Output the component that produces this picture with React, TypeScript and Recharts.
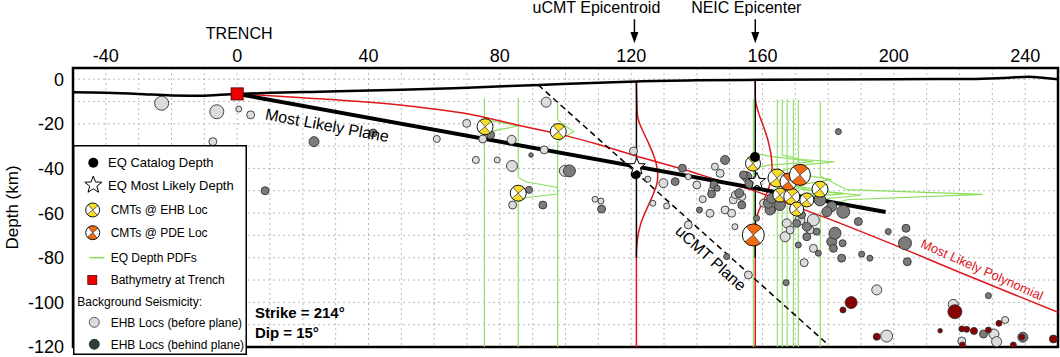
import React from 'react';
import {
  ComposedChart, Line, Scatter, XAxis, YAxis, ZAxis, CartesianGrid,
  ReferenceArea, ReferenceDot, Legend,
} from 'recharts';

const FONT = '"Liberation Sans", Arial, Helvetica, sans-serif';

// ---- axes ----
const xGridTicks = [-50, -40, -30, -20, -10, 0, 10, 20, 30, 40, 50, 60, 70, 80, 90, 100, 110, 120, 130, 140, 150, 160, 170, 180, 190, 200, 210, 220, 230, 240, 250];
const xTickLabels = [-40, 0, 40, 80, 120, 160, 200, 240];
const yGridTicks = [-120, -110, -100, -90, -80, -70, -60, -50, -40, -30, -20, -10, 0];
const yTickLabels = [-120, -100, -80, -60, -40, -20, 0];

// ---- lines (distance km, depth km) ----
const bathymetry = [
  { x: -50, y: -5.9 }, { x: -40, y: -6.1 }, { x: -30, y: -6.6 }, { x: -20, y: -7.3 }, { x: -12, y: -7.4 },
  { x: -5, y: -7.0 }, { x: 0, y: -6.7 }, { x: 10, y: -6.1 }, { x: 25, y: -5.6 }, { x: 50, y: -4.8 },
  { x: 70, y: -3.8 }, { x: 92, y: -2.6 }, { x: 110, y: -1.6 }, { x: 121.6, y: -1.0 }, { x: 140, y: -0.5 },
  { x: 160, y: -0.3 }, { x: 200, y: 0 }, { x: 225, y: 0.1 }, { x: 235, y: 0.6 }, { x: 241, y: 1.1 },
  { x: 246, y: 0.5 }, { x: 250, y: 0 },
];
const mostLikelyPlane = [{ x: 0, y: -6.6 }, { x: 197.5, y: -59.5 }];
const mostLikelyPolynomial = [
  { x: 0, y: -6.6 }, { x: 20, y: -8.3 }, { x: 49.6, y: -11.6 }, { x: 70, y: -15.5 }, { x: 85.3, y: -20.5 },
  { x: 100, y: -25.3 }, { x: 110.6, y: -29.5 }, { x: 122.8, y: -35 }, { x: 135, y: -40 }, { x: 147, y: -45.5 },
  { x: 158.4, y: -50.5 }, { x: 170, y: -57 }, { x: 183.7, y: -64.6 }, { x: 198, y: -73 }, { x: 220, y: -86.5 },
  { x: 250, y: -104.5 },
];
const ucmtPlane = [{ x: 91.7, y: -2.6 }, { x: 179.7, y: -118.6 }];
const ucmtEpicentroid = [{ x: 121.6, y: -1.0 }, { x: 121.6, y: -80 }];
const neicEpicenter = [{ x: 157.8, y: -0.3 }, { x: 157.8, y: -80 }];

// red depth PDFs at the two epicentres
const pdfUcmt = [
  { x: 121.6, y: -1 }, { x: 121.9, y: -16 }, { x: 122.6, y: -20 }, { x: 123.8, y: -24 }, { x: 125.4, y: -29 },
  { x: 126.8, y: -34 }, { x: 127.8, y: -39 }, { x: 128.1, y: -43 }, { x: 127.8, y: -47 }, { x: 126.6, y: -52 },
  { x: 125.1, y: -57 }, { x: 123.6, y: -62 }, { x: 122.5, y: -67 }, { x: 121.9, y: -72 }, { x: 121.6, y: -78 },
  { x: 121.6, y: -120 },
];
const pdfNeic = [
  { x: 157.8, y: -0.3 }, { x: 157.8, y: -8 }, { x: 158.2, y: -12 }, { x: 159.0, y: -16 }, { x: 160.0, y: -20 },
  { x: 161.2, y: -25 }, { x: 162.1, y: -30 }, { x: 162.7, y: -35 }, { x: 162.9, y: -40 }, { x: 162.6, y: -45 },
  { x: 161.6, y: -50 }, { x: 160.1, y: -55 }, { x: 158.6, y: -60 }, { x: 157.9, y: -64 }, { x: 157.8, y: -70 },
  { x: 157.8, y: -120 },
];

// green EQ depth PDFs
const pdfG1 = [{ x: 75.3, y: -8.5 }, { x: 75.3, y: -16.8 }, { x: 77, y: -18.5 }, { x: 85.6, y: -21 }, { x: 77, y: -23.5 }, { x: 75.3, y: -25.5 }, { x: 75.3, y: -120 }];
const pdfG2 = [{ x: 85.6, y: -8.5 }, { x: 85.6, y: -44 }, { x: 88, y: -46 }, { x: 97.5, y: -48.5 }, { x: 97.5, y: -51.5 }, { x: 88, y: -53 }, { x: 85.6, y: -55 }, { x: 85.6, y: -120 }];
const pdfG3 = [{ x: 97.6, y: -10.2 }, { x: 97.6, y: -18 }, { x: 99, y: -20 }, { x: 102.5, y: -23.5 }, { x: 99, y: -26.5 }, { x: 97.6, y: -28 }, { x: 97.6, y: -120 }];
const pdfG4 = [{ x: 157.2, y: -9 }, { x: 157.2, y: -33 }, { x: 162, y: -34.5 }, { x: 175.5, y: -37 }, { x: 162, y: -38.5 }, { x: 157.2, y: -40 }, { x: 157.2, y: -120 }];
const pdfG5 = [{ x: 164.5, y: -9 }, { x: 164.5, y: -46 }, { x: 170, y: -49 }, { x: 178, y: -50.5 }, { x: 170, y: -52 }, { x: 164.5, y: -55 }, { x: 164.5, y: -120 }];
const pdfG6 = [{ x: 166, y: -9 }, { x: 166, y: -34 }, { x: 172, y: -36 }, { x: 182, y: -37 }, { x: 172, y: -38.5 }, { x: 166, y: -41 }, { x: 166, y: -120 }];
const pdfG7 = [{ x: 167.5, y: -9 }, { x: 167.5, y: -47 }, { x: 175, y: -50 }, { x: 185, y: -51.3 }, { x: 175, y: -52.5 }, { x: 167.5, y: -56 }, { x: 167.5, y: -120 }];
const pdfG8 = [{ x: 169.4, y: -9 }, { x: 169.4, y: -40 }, { x: 173, y: -43 }, { x: 181, y: -45 }, { x: 173, y: -47 }, { x: 169.4, y: -50 }, { x: 169.4, y: -120 }];
const pdfG9 = [{ x: 170.9, y: -9 }, { x: 170.9, y: -48 }, { x: 180, y: -50.5 }, { x: 190, y: -52 }, { x: 180, y: -53.5 }, { x: 170.9, y: -57 }, { x: 170.9, y: -120 }];
const pdfG10 = [{ x: 177.6, y: -10 }, { x: 177.6, y: -43.5 }, { x: 185.6, y: -49.5 }, { x: 227, y: -51.6 }, { x: 185.6, y: -54 }, { x: 179.6, y: -57 }, { x: 177.6, y: -60 }, { x: 177.6, y: -120 }];
const greenPdfs = [pdfG1, pdfG2, pdfG3, pdfG4, pdfG5, pdfG6, pdfG7, pdfG8, pdfG9, pdfG10];

// ---- background seismicity (x km, depth km, m = magnitude) ----
const ehbBeforePlane = [
  { x: -23.0, y: -10.8, m: 4.9 }, { x: -6.2, y: -14.6, m: 4.9 }, { x: 0.5, y: -13.4, m: 4.08 }, { x: 4.1, y: -16.0, m: 4.22 },
  { x: -7.4, y: -28.0, m: 4.22 }, { x: 69.9, y: -19.8, m: 4.22 }, { x: 60.8, y: -26.8, m: 4.15 }, { x: 74.8, y: -26.8, m: 4.22 },
  { x: 83.6, y: -27.2, m: 4.31 }, { x: 72.7, y: -36.2, m: 4.15 }, { x: 79.2, y: -36.2, m: 4.08 }, { x: 83.7, y: -38.9, m: 4.51 },
  { x: 93.5, y: -31.7, m: 4.22 }, { x: 94.1, y: -10.3, m: 4.41 }, { x: 99.8, y: -41.1, m: 4.51 }, { x: 83.9, y: -56.4, m: 4.22 },
  { x: 109.0, y: -53.8, m: 4.08 }, { x: 110.8, y: -54.6, m: 4.08 }, { x: 120.7, y: -32.2, m: 4.22 }, { x: 125.1, y: -44.8, m: 4.08 },
  { x: 129.8, y: -46.6, m: 4.31 }, { x: 126.6, y: -55.6, m: 4.08 }, { x: 130.8, y: -56.8, m: 4.08 }, { x: 137.4, y: -43.7, m: 4.08 },
  { x: 140.0, y: -47.4, m: 4.22 }, { x: 141.8, y: -53.8, m: 4.15 }, { x: 137.4, y: -65.3, m: 4.22 }, { x: 145.5, y: -39.2, m: 4.15 },
  { x: 147.1, y: -42.2, m: 4.22 }, { x: 144.5, y: -49.6, m: 4.08 }, { x: 151.1, y: -54.1, m: 4.22 }, { x: 151.6, y: -51.9, m: 4.15 },
  { x: 148.6, y: -58.6, m: 4.22 }, { x: 150.6, y: -60.1, m: 4.22 }, { x: 144.0, y: -60.1, m: 4.22 }, { x: 151.6, y: -66.1, m: 4.08 },
  { x: 153.7, y: -52.6, m: 4.22 }, { x: 155.7, y: -87.7, m: 4.22 }, { x: 158.2, y: -45.2, m: 4.22 }, { x: 160.3, y: -55.6, m: 4.22 },
  { x: 162.8, y: -58.6, m: 4.22 }, { x: 167.4, y: -64.6, m: 4.31 }, { x: 166.9, y: -70.6, m: 4.41 }, { x: 168.4, y: -67.6, m: 4.22 },
  { x: 171.4, y: -63.1, m: 4.41 }, { x: 175.5, y: -63.1, m: 4.63 }, { x: 174.5, y: -67.6, m: 4.22 }, { x: 175.5, y: -75.8, m: 4.22 },
  { x: 172.7, y: -82.2, m: 4.22 }, { x: 194.8, y: -94.4, m: 4.41 }, { x: 218.1, y: -100.9, m: 4.41 }, { x: 197.8, y: -115.1, m: 4.63 },
  { x: 230.5, y: -114.2, m: 4.41 }, { x: 231.3, y: -117.6, m: 4.41 }, { x: 233.9, y: -107.9, m: 4.15 }, { x: 220.7, y: -117.3, m: 4.22 },
];
const ehbBehindPlane = [
  { x: 23.4, y: -28.0, m: 4.41 }, { x: 8.5, y: -50.0, m: 4.22 }, { x: 41.4, y: -24.1, m: 4.22 }, { x: 77.2, y: -25.0, m: 4.22 },
  { x: 89.5, y: -34.0, m: 4.0 }, { x: 101.2, y: -41.1, m: 4.63 }, { x: 88.9, y: -49.6, m: 4.15 }, { x: 93.1, y: -56.4, m: 4.22 },
  { x: 111.0, y: -58.2, m: 4.22 }, { x: 133.4, y: -45.9, m: 4.22 }, { x: 135.6, y: -39.9, m: 4.22 }, { x: 140.8, y: -58.6, m: 4.08 },
  { x: 148.6, y: -36.2, m: 4.31 }, { x: 145.2, y: -47.4, m: 4.22 }, { x: 144.5, y: -51.4, m: 4.22 }, { x: 152.9, y: -51.1, m: 4.31 },
  { x: 155.2, y: -43.7, m: 4.41 }, { x: 156.2, y: -46.6, m: 4.41 }, { x: 154.2, y: -42.9, m: 4.22 }, { x: 153.7, y: -56.4, m: 4.22 },
  { x: 158.2, y: -62.3, m: 4.08 }, { x: 162.3, y: -58.6, m: 4.41 }, { x: 161.8, y: -55.6, m: 4.41 }, { x: 165.3, y: -56.4, m: 4.51 },
  { x: 162.8, y: -53.4, m: 4.41 }, { x: 170.9, y: -74.3, m: 4.08 }, { x: 170.4, y: -64.6, m: 4.22 }, { x: 173.5, y: -66.1, m: 4.31 },
  { x: 171.9, y: -60.8, m: 4.22 }, { x: 173.5, y: -70.6, m: 4.22 }, { x: 177.0, y: -78.0, m: 4.08 }, { x: 167.2, y: -91.2, m: 4.08 },
  { x: 181.1, y: -72.8, m: 4.41 }, { x: 182.1, y: -69.0, m: 4.63 }, { x: 181.6, y: -75.8, m: 4.22 }, { x: 184.1, y: -80.2, m: 4.22 },
  { x: 184.4, y: -73.5, m: 4.15 }, { x: 184.6, y: -59.4, m: 4.76 }, { x: 189.2, y: -63.8, m: 4.22 }, { x: 190.2, y: -78.4, m: 4.08 },
  { x: 192.7, y: -80.2, m: 4.08 }, { x: 198.3, y: -68.3, m: 4.08 }, { x: 203.7, y: -66.8, m: 4.22 }, { x: 203.4, y: -73.5, m: 4.76 },
  { x: 204.1, y: -81.8, m: 4.22 }, { x: 183.1, y: -23.5, m: 4.08 }, { x: 228.8, y: -97.0, m: 4.08 }, { x: 227.3, y: -114.2, m: 4.22 },
  { x: 239.3, y: -115.6, m: 4.41 }, { x: 149.1, y: -79.5, m: 4.08 }, { x: 176.5, y: -68.3, m: 4.15 }, { x: 177.5, y: -54.1, m: 4.63 },
  { x: 181.1, y: -57.1, m: 4.41 }, { x: 179.6, y: -59.4, m: 4.41 }, { x: 146.2, y: -48.9, m: 4.08 },
];
const deepSeismicity = [
  { x: 187.0, y: -100.1, m: 4.63 }, { x: 184.5, y: -103.4, m: 4.08 }, { x: 218.6, y: -104.2, m: 4.9 }, { x: 194.8, y: -115.4, m: 4.15 },
  { x: 214.1, y: -112.7, m: 4.0 }, { x: 220.7, y: -111.9, m: 4.08 }, { x: 222.2, y: -112.1, m: 4.08 }, { x: 224.4, y: -112.8, m: 4.15 },
  { x: 228.8, y: -112.4, m: 4.08 }, { x: 232.0, y: -109.4, m: 4.08 }, { x: 220.9, y: -119.1, m: 4.08 }, { x: 236.4, y: -119.1, m: 4.08 },
  { x: 239.0, y: -115.5, m: 4.08 }, { x: 248.6, y: -116.4, m: 4.22 },
];

// ---- focal mechanisms ----
const cmtEhb = [
  { x: 75.5, y: -21.3, m: 5.2 }, { x: 97.8, y: -23.5, m: 5.2 }, { x: 85.6, y: -51.1, m: 5.2 }, { x: 157.1, y: -37.8, m: 5.05 },
  { x: 164.4, y: -44.3, m: 5.55 }, { x: 165.3, y: -51.9, m: 4.9 }, { x: 168.9, y: -52.6, m: 5.2 }, { x: 170.4, y: -58.2, m: 4.9 },
  { x: 177.5, y: -49.3, m: 5.2 }, { x: 173.5, y: -54.1, m: 4.9 },
];
const cmtPde = [
  { x: 157.2, y: -69.8, m: 6.37 }, { x: 167.9, y: -45.9, m: 5.37 }, { x: 171.4, y: -42.9, m: 6.15 },
];

const catalogDepth = [{ x: 121.4, y: -42.6 }, { x: 157.7, y: -34.9 }];
const mostLikelyDepth = [{ x: 121.7, y: -39.2 }, { x: 158.3, y: -45.8 }];
const trench = [{ x: 0, y: -6.6 }];

const COL = {
  light: '#dcdcdc', dark: '#7b7b7b', deep: '#8a0000', ehb: '#f8dc2a', pde: '#f26b0e',
  green: '#8ade5c', red: '#e0161b', legendDark: '#2f3d3d', legendLight: '#d8dcdc',
};

function ball(cx: number, cy: number, r: number, color: string) {
  const rad = (d: number) => (d * Math.PI) / 180;
  const pt = (a: number) => `${cx + r * Math.cos(rad(a))} ${cy + r * Math.sin(rad(a))}`;
  const wedge = (a0: number, a1: number) => `M ${cx} ${cy} L ${pt(a0)} A ${r} ${r} 0 0 1 ${pt(a1)} Z`;
  return (
    <g>
      <circle cx={cx} cy={cy} r={r} fill="#fff" />
      <path d={wedge(-130, -40)} fill={color} />
      <path d={wedge(50, 140)} fill={color} />
      <path d={`M ${pt(-130)} L ${pt(50)} M ${pt(-40)} L ${pt(140)}`} stroke="#333" strokeWidth={0.7} />
      <circle cx={cx} cy={cy} r={r} fill="none" stroke="#111" strokeWidth={1} />
    </g>
  );
}

function star(cx: number, cy: number, R: number) {
  const pts: string[] = [];
  for (let i = 0; i < 10; i++) {
    const a = -Math.PI / 2 + (i * Math.PI) / 5;
    const rr = i % 2 === 0 ? R : R * 0.42;
    pts.push(`${cx + rr * Math.cos(a)},${cy + rr * Math.sin(a)}`);
  }
  return <polygon points={pts.join(' ')} fill="#fff" stroke="#000" strokeWidth={1} />;
}

const radiusOf = (p: any) => (p.width ? p.width / 2 : Math.sqrt((p.size || 64) / Math.PI));

const XTick = (props: any) => {
  const { x, y, payload } = props;
  if (!xTickLabels.includes(payload.value)) return <g />;
  return (
    <text x={x} y={y} textAnchor="middle" fontSize={18} fontFamily={FONT} fill="#000">{payload.value}</text>
  );
};
const YTick = (props: any) => {
  const { x, y, payload } = props;
  if (!yTickLabels.includes(payload.value)) return <g />;
  return (
    <text x={x} y={y} dy="0.36em" textAnchor="end" fontSize={18} fontFamily={FONT} fill="#000">{payload.value}</text>
  );
};

const LegendBox = () => (
  <svg width={174} height={210} style={{ display: 'block' }}>
    <rect x={0.75} y={0.75} width={172.5} height={208.5} fill="#fff" stroke="#000" strokeWidth={1.5} />
    <g fontFamily={FONT} fill="#000">
      <circle cx={20.3} cy={17.7} r={5} fill="#000" />
      <text x={35} y={17.7} dy="0.36em" fontSize={13}>EQ Catalog Depth</text>
      {star(20.3, 40, 9)}
      <text x={35} y={40} dy="0.36em" fontSize={13}>EQ Most Likely Depth</text>
      {ball(19.7, 65, 7, COL.ehb)}
      <text x={37.7} y={65} dy="0.36em" fontSize={12}>CMTs @ EHB Loc</text>
      {ball(19.7, 87.7, 7, COL.pde)}
      <text x={37.7} y={87.7} dy="0.36em" fontSize={12}>CMTs @ PDE Loc</text>
      <line x1={16.3} y1={112.7} x2={31.3} y2={112.7} stroke={COL.green} strokeWidth={1.5} />
      <text x={37.7} y={112.7} dy="0.36em" fontSize={12}>EQ Depth PDFs</text>
      <rect x={14.8} y={130.5} width={9} height={9} fill="#e00" stroke="#600" strokeWidth={0.8} />
      <text x={37.7} y={135} dy="0.36em" fontSize={12}>Bathymetry at Trench</text>
      <text x={4.3} y={156.7} dy="0.36em" fontSize={12}>Background Seismicity:</text>
      <circle cx={21.3} cy={177.3} r={5} fill={COL.legendLight} stroke="#333" strokeWidth={0.8} />
      <text x={37.7} y={177.3} dy="0.36em" fontSize={12}>EHB Locs (before plane)</text>
      <circle cx={21.3} cy={199.3} r={5} fill={COL.legendDark} stroke="#222" strokeWidth={0.8} />
      <text x={37.7} y={199.3} dy="0.36em" fontSize={12}>EHB Locs (behind plane)</text>
    </g>
  </svg>
);

const lineCommon = { dot: false, activeDot: false, isAnimationActive: false, legendType: 'none' as const, dataKey: 'y' };

export default function App() {
  return (
    <div style={{ position: 'absolute', left: 0, top: 0, width: 1060, height: 357, fontFamily: FONT }}>
      <ComposedChart width={1060} height={357} margin={{ top: 38, right: 2, bottom: 10, left: 13 }} style={{ fontFamily: FONT }}>
        <CartesianGrid stroke="#a8a8a8" strokeDasharray="2 3" strokeWidth={0.8} />
        <XAxis type="number" dataKey="x" orientation="top" domain={[-50, 250]} ticks={xGridTicks} allowDataOverflow
          axisLine={false} tickLine={false} tickSize={4} tickMargin={2} height={30} interval={0} tick={<XTick />} />
        <YAxis type="number" dataKey="y" domain={[-120, 5]} ticks={yGridTicks} allowDataOverflow
          axisLine={false} tickLine={false} tickSize={6} tickMargin={3} width={60} interval={0} tick={<YTick />}
          label={{ value: 'Depth (km)', angle: -90, position: 'insideLeft', offset: -1, style: { textAnchor: 'middle', fontSize: 17, fontFamily: FONT, fill: '#000' } }} />
        <ZAxis type="number" dataKey="m" domain={[4, 6.5]} range={[16, 400]} />

        {greenPdfs.map((d, i) => (
          <Line key={`g${i}`} {...lineCommon} data={d} type="linear" stroke={COL.green} strokeWidth={1.1} />
        ))}
        <Line {...lineCommon} data={pdfUcmt} type="monotoneY" stroke={COL.red} strokeWidth={1.5} />
        <Line {...lineCommon} data={pdfNeic} type="monotoneY" stroke={COL.red} strokeWidth={1.5} />
        <Line {...lineCommon} data={ucmtEpicentroid} type="linear" stroke="#000" strokeWidth={1.5} />
        <Line {...lineCommon} data={neicEpicenter} type="linear" stroke="#000" strokeWidth={1.5} />
        <Line {...lineCommon} data={mostLikelyPolynomial} type="monotone" stroke={COL.red} strokeWidth={1.5} />
        <Line {...lineCommon} data={ucmtPlane} type="linear" stroke="#000" strokeWidth={1.5} strokeDasharray="6 4" />
        <Line {...lineCommon} data={bathymetry} type="monotone" stroke="#000" strokeWidth={2.5} />
        <Line {...lineCommon} data={mostLikelyPlane} type="linear" stroke="#000" strokeWidth={4} />

        <Scatter data={ehbBeforePlane} fill={COL.light} stroke="#333" strokeWidth={0.9} isAnimationActive={false} legendType="none" />
        <Scatter data={ehbBehindPlane} fill={COL.dark} stroke="#333" strokeWidth={0.9} isAnimationActive={false} legendType="none" />
        <Scatter data={deepSeismicity} fill={COL.deep} stroke="#333" strokeWidth={0.9} isAnimationActive={false} legendType="none" />
        <Scatter data={cmtEhb} isAnimationActive={false} legendType="none"
          shape={(p: any) => ball(p.cx, p.cy, radiusOf(p), COL.ehb)} />
        <Scatter data={cmtPde} isAnimationActive={false} legendType="none"
          shape={(p: any) => ball(p.cx, p.cy, radiusOf(p), COL.pde)} />
        <Scatter data={catalogDepth} isAnimationActive={false} legendType="none"
          shape={(p: any) => <circle cx={p.cx} cy={p.cy} r={5} fill="#000" />} />
        <Scatter data={mostLikelyDepth} isAnimationActive={false} legendType="none"
          shape={(p: any) => star(p.cx, p.cy, 9)} />
        <Scatter data={trench} isAnimationActive={false} legendType="none"
          shape={(p: any) => <rect x={p.cx - 6} y={p.cy - 6} width={12} height={12} fill="#e00" stroke="#600" strokeWidth={1} />} />

        <ReferenceDot x={27.4} y={-20.6} r={0} ifOverflow="visible"
          shape={(p: any) => (
            <text x={p.cx} y={p.cy} dy="0.36em" transform={`rotate(10.5 ${p.cx} ${p.cy})`} textAnchor="middle" fontSize={16} fontFamily={FONT} fill="#000">Most Likely Plane</text>
          )} />
        <ReferenceDot x={144.3} y={-80.1} r={0} ifOverflow="visible"
          shape={(p: any) => (
            <text x={p.cx} y={p.cy} dy="0.36em" transform={`rotate(42 ${p.cx} ${p.cy})`} textAnchor="middle" fontSize={16} fontFamily={FONT} fill="#000">uCMT Plane</text>
          )} />
        <ReferenceDot x={226.9} y={-85.3} r={0} ifOverflow="visible"
          shape={(p: any) => (
            <text x={p.cx} y={p.cy} dy="0.36em" transform={`rotate(24 ${p.cx} ${p.cy})`} textAnchor="middle" fontSize={13} fontFamily={FONT} fill={COL.red}>Most Likely Polynomial</text>
          )} />
        <ReferenceDot x={5.4} y={-104.6} r={0} ifOverflow="visible"
          shape={(p: any) => (
            <text x={p.cx} y={p.cy} dy="0.36em" textAnchor="start" fontSize={15} fontWeight="bold" fontFamily={FONT} fill="#000">Strike = 214°</text>
          )} />
        <ReferenceDot x={5.4} y={-113.6} r={0} ifOverflow="visible"
          shape={(p: any) => (
            <text x={p.cx} y={p.cy} dy="0.36em" textAnchor="start" fontSize={15} fontWeight="bold" fontFamily={FONT} fill="#000">Dip = 15°</text>
          )} />
        <ReferenceDot x={0} y={5} r={0} ifOverflow="visible"
          shape={(p: any) => (
            <text x={p.cx + 2} y={p.cy - 28.7} textAnchor="middle" fontSize={16} fontFamily={FONT} fill="#000">TRENCH</text>
          )} />
        <ReferenceDot x={121.6} y={5} r={0} ifOverflow="visible"
          shape={(p: any) => (
            <g>
              <text x={p.cx - 40} y={p.cy - 54.7} textAnchor="middle" fontSize={16} fontFamily={FONT} fill="#000">uCMT Epicentroid</text>
              <line x1={p.cx - 2} y1={p.cy - 48.7} x2={p.cx - 2} y2={p.cy - 34} stroke="#000" strokeWidth={1.5} />
              <path d={`M ${p.cx - 6} ${p.cy - 36} L ${p.cx + 2} ${p.cy - 36} L ${p.cx - 2} ${p.cy - 24.7} Z`} fill="#000" />
            </g>
          )} />
        <ReferenceDot x={157.8} y={5} r={0} ifOverflow="visible"
          shape={(p: any) => (
            <g>
              <text x={p.cx - 9} y={p.cy - 54.7} textAnchor="middle" fontSize={16} fontFamily={FONT} fill="#000">NEIC Epicenter</text>
              <line x1={p.cx} y1={p.cy - 48.7} x2={p.cx} y2={p.cy - 34} stroke="#000" strokeWidth={1.5} />
              <path d={`M ${p.cx - 4} ${p.cy - 36} L ${p.cx + 4} ${p.cy - 36} L ${p.cx} ${p.cy - 24.7} Z`} fill="#000" />
            </g>
          )} />

        <ReferenceArea x1={-50} x2={250} y1={-120} y2={5} fill="none" stroke="#000" strokeWidth={2.5} ifOverflow="visible" />
        <Legend layout="vertical" align="center" verticalAlign="middle" content={() => <LegendBox />}
          wrapperStyle={{ position: 'absolute', left: 73, top: 145, width: 174, height: 210, margin: 0, padding: 0 }} />
      </ComposedChart>
    </div>
  );
}
